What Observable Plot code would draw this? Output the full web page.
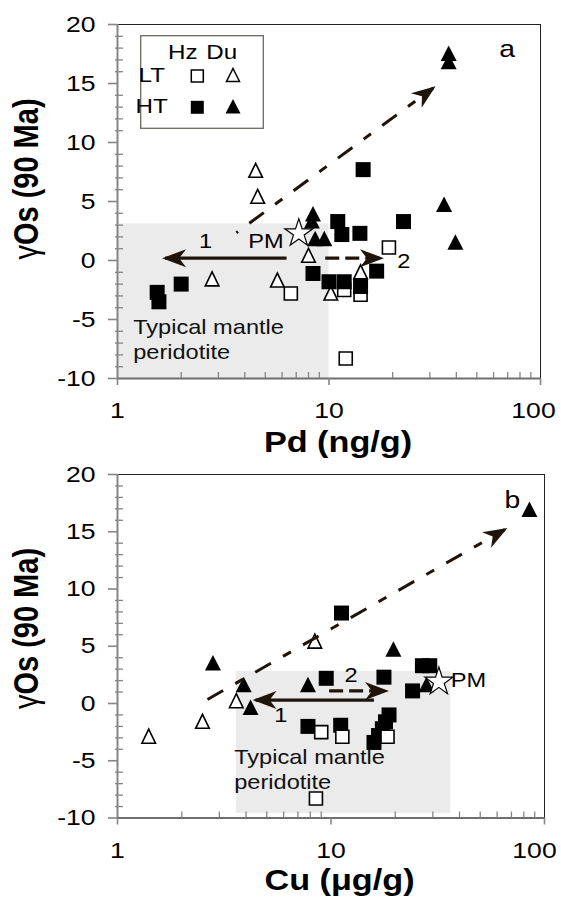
<!DOCTYPE html>
<html>
<head>
<meta charset="utf-8">
<script src="https://cdn.jsdelivr.net/npm/d3@7"></script>
<script src="https://cdn.jsdelivr.net/npm/@observablehq/plot@0.6"></script>
<style>
html,body{margin:0;padding:0;background:#fff;}
#chart{position:relative;width:561px;height:908px;overflow:hidden;background:#fff;}
#chart svg{display:block;}
</style>
</head>
<body>
<div id="chart"></div>
<script>
// ---------------- Panel a : Pd (ng/g) vs γOs (90 Ma) ----------------
const pdLT_Hz = [[6.6,-2.8],[11.8,-2.5],[14.1,-2.9],[19.2,1.1],[12.0,-8.3]];
const pdLT_Du = [[4.5,7.6],[4.6,5.4],[2.8,-1.6],[5.7,-1.7],[8.0,0.4],[10.2,-2.8],[14.1,-1.0]];
const pdHT_Hz = [[14.5,7.7],[11.0,3.3],[11.5,2.2],[14.0,2.3],[22.5,3.3],[8.4,-1.1],[16.8,-0.9],
                 [10.0,-1.8],[11.8,-1.8],[14.1,-2.2],[1.54,-2.7],[1.57,-3.5],[2.0,-2.0]];
const pdHT_Du = [[36.8,17.5],[36.8,16.8],[35.0,4.7],[39.6,1.5],[8.4,3.9],[8.3,3.3],[8.6,1.8],[9.5,1.8]];
const pdPM = [[7.2,2.3]];
const pdBox = [{x1:1,x2:10,y1:-10,y2:3.1}];
const pdArrows = [
  {kind:"solid",   x1:6.3,  y1:0.2,  x2:1.68, y2:0.2},
  {kind:"dash",    x1:9.6,  y1:0.2,  x2:17.6, y2:0.2},
  {kind:"dashdot", x1:3.65, y1:2.35, x2:31.1, y2:14.62}
];
const pdLabels = [{x:2.61,y:1.61,text:"1"},{x:22.6,y:-0.08,text:"2"}];
const pdPMLabel = [{x:6.11,y:1.61,text:"PM"}];
const pdTag = [{x:69.6,y:17.88,text:"a"}];
const pdNote = [{x:1.186,y:-4.68,text:"Typical mantle\nperidotite"}];

// ---------------- Panel b : Cu (µg/g) vs γOs (90 Ma) ----------------
const cuLT_Hz = [[9.0,-2.5],[11.3,-2.9],[18.4,-2.9],[8.5,-8.3]];
const cuLT_Du = [[8.4,5.4],[3.6,0.2],[2.5,-1.6],[1.4,-2.9]];
const cuHT_Hz = [[11.2,7.9],[9.5,2.2],[17.7,2.3],[26.8,3.3],[29.0,3.3],[24.1,1.1],[7.8,-2.0],[11.1,-1.9],
                 [18.7,-1.0],[18.0,-1.6],[17.4,-2.2],[16.7,-2.8],[15.9,-3.4]];
const cuHT_Du = [[85,16.9],[19.6,4.7],[2.8,3.5],[3.9,1.6],[4.2,-0.4],[7.8,1.6],[28.0,1.6]];
const cuPM = [[32,1.9]];
const cuBox = [{x1:3.6,x2:36.4,y1:-9.6,y2:2.8}];
const cuArrows = [
  {kind:"solid",   x1:15.9, y1:0.3,  x2:4.43, y2:0.3},
  {kind:"dash",    x1:9.8,  y1:1.1,  x2:18.1, y2:1.1},
  {kind:"dashdot", x1:2.64, y1:0.35, x2:65.2, y2:15.19}
];
const cuLabels = [{x:5.82,y:-1.05,text:"1"},{x:12.4,y:2.45,text:"2"}];
const cuPMLabel = [{x:36.4,y:2.01,text:"PM"}];
const cuTag = [{x:70.8,y:17.75,text:"b"}];
const cuNote = [{x:3.52,y:-3.66,text:"Typical mantle\nperidotite"}];

// ---------------- axes ----------------
const yTicks = [-10,-5,0,5,10,15,20];
const yMinor = d3.range(-10,21).filter(v => v % 5 !== 0);
const xTicks = [1,10,100];
const xMinor = [2,3,4,5,6,7,8,9,20,30,40,50,60,70,80,90];
const yTitle = "γOs (90 Ma)";
const xTitleA = "Pd (ng/g)";
const xTitleB = "Cu (μg/g)";
const legendCols = ["Hz","Du"];
const legendRows = ["LT","HT"];

// ---------------- styling helpers ----------------
const S = 1.18;               // horizontal widening of the original lettering
const FONT = "'Liberation Sans', Arial, Helvetica, sans-serif";
const INK = "#1e140a";
const AXIS = "#858585";
const NS = "http://www.w3.org/2000/svg";

const sq = h => ({draw(c){c.moveTo(-h,-h);c.lineTo(h,-h);c.lineTo(h,h);c.lineTo(-h,h);c.closePath();}});
const tri = (hw,top,bot) => ({draw(c){c.moveTo(0,-top);c.lineTo(hw,bot);c.lineTo(-hw,bot);c.closePath();}});
const symFilledSq = sq(7.5), symOpenSq = sq(6.5);
const symFilledTri = tri(8,8.5,7), symOpenTri = tri(6.8,7.5,6.5);

function stealth(color, context) {
  const doc = (context && context.document) || document;
  const m = doc.createElementNS(NS, "marker");
  m.setAttribute("viewBox", "-24 -10 28 20");
  m.setAttribute("markerWidth", 28);
  m.setAttribute("markerHeight", 20);
  m.setAttribute("markerUnits", "userSpaceOnUse");
  m.setAttribute("refX", 0);
  m.setAttribute("refY", 0);
  m.setAttribute("orient", "auto");
  const p = doc.createElementNS(NS, "path");
  p.setAttribute("d", "M3,0L-21,-9L-14,0L-21,9Z");
  p.setAttribute("fill", color);
  p.setAttribute("stroke", "none");
  m.appendChild(p);
  return m;
}

function panel(c) {
  const xy = {x: d => d[0], y: d => d[1]};
  const linkBase = {x1:"x1", y1:"y1", x2:"x2", y2:"y2", stroke: INK, strokeWidth: 3.2, markerEnd: stealth};
  const dots = c.order.map(k => {
    const [data, sym, filled] = k;
    return filled
      ? Plot.dot(data, {...xy, symbol: sym, r: 5, fill: "#000", stroke: "none"})
      : Plot.dot(data, {...xy, symbol: sym, r: 5, fill: "#fff", stroke: "#000", strokeWidth: 1.6});
  });
  const tickText = {fontSize: 22.5, stroke: AXIS, fill: "#000", label: null};
  return Plot.plot({
    width: 561, height: c.height,
    marginTop: c.mt, marginBottom: c.mb, marginLeft: 117, marginRight: c.mr,
    x: {type: "log", domain: [1, 100], axis: null},
    y: {domain: [-10, 20], axis: null},
    style: {fontFamily: FONT, fontSize: "20px", color: "#000", background: "transparent", overflow: "visible"},
    marks: [
      Plot.rect(c.box, {x1:"x1", x2:"x2", y1:"y1", y2:"y2", fill: "#ebebeb"}),
      Plot.text(c.note, {x:"x", y:"y", text:"text", textAnchor:"start", lineAnchor:"top", lineHeight:1.28, fontSize:20, fill:"#111"}),
      Plot.frame({stroke: "#222", strokeWidth: 1}),
      Plot.ruleX([1], {stroke: AXIS, strokeWidth: 2}),
      Plot.ruleY([-10], {stroke: "#6e6e6e", strokeWidth: 2}),
      Plot.axisY(yMinor, {anchor:"left", tickSize:8, dx:6, tickFormat: () => "", stroke: AXIS, strokeWidth: 1.3, label: null}),
      Plot.axisY(yTicks, {...tickText, anchor:"left", tickSize:9, tickPadding:13, tickFormat: d => String(d), strokeWidth: 1.6}),
      Plot.axisX(xMinor, {anchor:"bottom", tickSize:6, dy:-6, tickFormat: () => "", stroke: AXIS, strokeWidth: 1.3, label: null}),
      Plot.axisX(xTicks, {...tickText, anchor:"bottom", tickSize:7, tickPadding:17, tickFormat: d => d === 100 ? "" : String(d), strokeWidth: 1.6}),
      Plot.axisX([100], {...tickText, anchor:"bottom", tickSize:0, tickPadding:24, dx: c.dx100, tickFormat: d => String(d)}),
      Plot.text([c.xTitle], {frameAnchor:"bottom", lineAnchor:"middle", textAnchor:"middle", text: d => d, dx: c.xdx, dy: c.xdy, fontSize: 29, fontWeight: "bold", fill: "#000"}),
      Plot.text([yTitle], {frameAnchor:"left", lineAnchor:"middle", textAnchor:"middle", text: d => d, rotate: -90, dx: -90, dy: c.ydy, fontSize: 29, fontWeight: "bold", fill: "#000"}),
      ...dots,
      Plot.link(c.arrows.filter(d => d.kind === "solid"), linkBase),
      Plot.link(c.arrows.filter(d => d.kind === "dash"), {...linkBase, strokeDasharray: "14,6"}),
      Plot.link(c.arrows.filter(d => d.kind === "dashdot"), {...linkBase, strokeWidth: 3, strokeDasharray: "18,14,9,14", strokeDashoffset: c.dashOffset}),
      Plot.dot(c.pm, {...xy, symbol: "star", r: 8.8, fill: "#fff", stroke: "#000", strokeWidth: 1.2}),
      Plot.text(c.labels, {x:"x", y:"y", text:"text", fontSize: 20, fill: "#000"}),
      Plot.text(c.pmLabel, {x:"x", y:"y", text:"text", fontSize: 20, fill: "#000", textAnchor: c.pmAnchor}),
      Plot.text(c.tag, {x:"x", y:"y", text:"text", fontSize: 24, fill: "#000"})
    ]
  });
}

const svgA = panel({
  height: 455, mt: 24, mb: 77, mr: 21, dx100: -7,
  box: pdBox, note: pdNote, xTitle: xTitleA, xdx: 9, xdy: 64.7, ydy: -22.5,
  order: [[pdLT_Hz, symOpenSq, false], [pdLT_Du, symOpenTri, false], [pdHT_Hz, symFilledSq, true], [pdHT_Du, symFilledTri, true]],
  arrows: pdArrows, dashOffset: 39, pm: pdPM, labels: pdLabels, pmLabel: pdPMLabel, pmAnchor: "end", tag: pdTag
});
const svgB = panel({
  height: 453, mt: 19, mb: 90.5, mr: 17, dx100: -10,
  box: cuBox, note: cuNote, xTitle: xTitleB, xdx: 8.5, xdy: 63.2, ydy: -17.75,
  order: [[cuHT_Hz, symFilledSq, true], [cuHT_Du, symFilledTri, true], [cuLT_Hz, symOpenSq, false], [cuLT_Du, symOpenTri, false]],
  arrows: cuArrows, dashOffset: 0, pm: cuPM, labels: cuLabels, pmLabel: cuPMLabel, pmAnchor: "start", tag: cuTag
});

const chart = document.getElementById("chart");
chart.appendChild(svgA);
chart.appendChild(svgB);

// ---------------- legend (panel a) ----------------
(function addLegend(svg) {
  const g = d3.select(svg).append("g").attr("font-family", FONT).attr("font-size", 20.5).attr("fill", "#000");
  g.append("rect").attr("x", 140.7).attr("y", 35.7).attr("width", 122.6).attr("height", 92.6)
    .attr("fill", "#fff").attr("stroke", "#6e6862").attr("stroke-width", 1.3);
  const colX = [182.7, 221.7], rowY = [81.7, 113.3];
  legendCols.forEach((t, i) => g.append("text").attr("transform", `translate(${colX[i]},59.3)`).text(t));
  legendRows.forEach((t, i) => g.append("text").attr("transform", `translate(151.7,${rowY[i]})`).text(t));
  const path = (sym) => { const p = d3.path(); sym.draw(p); return p.toString(); };
  const items = [
    [197.3, 76, sq(6), false], [233, 75.5, tri(6.5,7,6), false],
    [197.3, 107.3, sq(6.5), true], [233, 107, tri(7.5,8,6.5), true]
  ];
  items.forEach(([x, y, sym, filled]) => {
    g.append("path").attr("transform", `translate(${x},${y})`).attr("d", path(sym))
      .attr("fill", filled ? "#000" : "#fff").attr("stroke", filled ? "none" : "#000").attr("stroke-width", 1.5);
  });
})(svgA);

// ---------------- text post-processing ----------------
[svgA, svgB].forEach(svg => {
  svg.querySelectorAll("text").forEach(t => {
    if (t.textContent === yTitle) {
      t.textContent = "";
      const a = document.createElementNS(NS, "tspan");
      a.setAttribute("font-weight", "normal");
      a.textContent = "γ";
      t.appendChild(a);
      t.appendChild(document.createTextNode(yTitle.slice(1)));
    }
    const tr = t.getAttribute("transform");
    if (!tr) return;
    if (/rotate\(\s*-?90/.test(tr)) t.setAttribute("transform", tr + ` scale(1,${S})`);
    else t.setAttribute("transform", tr + ` scale(${S},1)`);
  });
});
</script>
</body>
</html>
